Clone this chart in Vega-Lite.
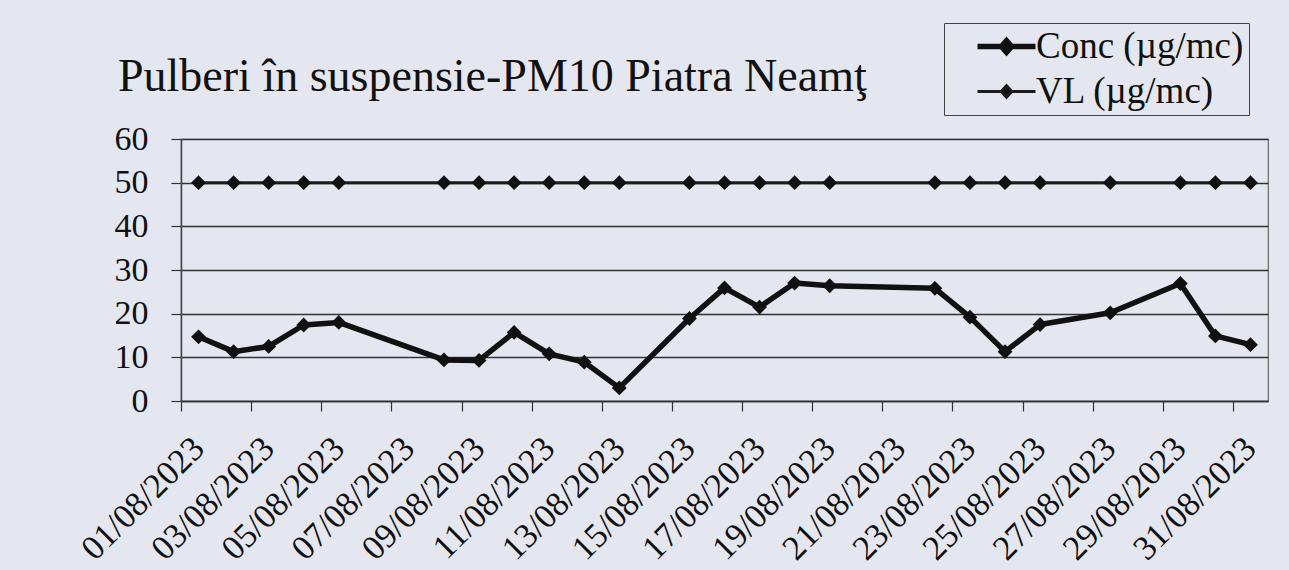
{
  "$schema": "https://vega.github.io/schema/vega-lite/v6.json",
  "width": 1087,
  "height": 262,
  "autosize": {"type": "none"},
  "padding": {"left": 181, "top": 139, "right": 21, "bottom": 169},
  "background": "#e5e7f0",
  "config": {
    "view": {"stroke": "#666", "strokeWidth": 1.2},
    "font": "Liberation Serif"
  },
  "title": {
    "text": "Pulberi în suspensie-PM10 Piatra Neamţ",
    "anchor": "start",
    "frame": "group",
    "font": "Liberation Serif",
    "fontSize": 46,
    "fontWeight": "normal",
    "color": "#111",
    "baseline": "alphabetic",
    "dx": -63,
    "offset": 20,
    "dy": 134
  },
  "data": {
    "values": [
      {"date": "2023-08-01T00:00:00", "series": "Conc (µg/mc)", "value": 14.7},
      {"date": "2023-08-02T00:00:00", "series": "Conc (µg/mc)", "value": 11.3},
      {"date": "2023-08-03T00:00:00", "series": "Conc (µg/mc)", "value": 12.5},
      {"date": "2023-08-04T00:00:00", "series": "Conc (µg/mc)", "value": 17.4},
      {"date": "2023-08-05T00:00:00", "series": "Conc (µg/mc)", "value": 18.0},
      {"date": "2023-08-08T00:00:00", "series": "Conc (µg/mc)", "value": 9.4},
      {"date": "2023-08-09T00:00:00", "series": "Conc (µg/mc)", "value": 9.3},
      {"date": "2023-08-10T00:00:00", "series": "Conc (µg/mc)", "value": 15.7},
      {"date": "2023-08-11T00:00:00", "series": "Conc (µg/mc)", "value": 10.8},
      {"date": "2023-08-12T00:00:00", "series": "Conc (µg/mc)", "value": 8.9},
      {"date": "2023-08-13T00:00:00", "series": "Conc (µg/mc)", "value": 3.0},
      {"date": "2023-08-15T00:00:00", "series": "Conc (µg/mc)", "value": 18.9},
      {"date": "2023-08-16T00:00:00", "series": "Conc (µg/mc)", "value": 25.9},
      {"date": "2023-08-17T00:00:00", "series": "Conc (µg/mc)", "value": 21.5},
      {"date": "2023-08-18T00:00:00", "series": "Conc (µg/mc)", "value": 27.0},
      {"date": "2023-08-19T00:00:00", "series": "Conc (µg/mc)", "value": 26.4},
      {"date": "2023-08-22T00:00:00", "series": "Conc (µg/mc)", "value": 25.8},
      {"date": "2023-08-23T00:00:00", "series": "Conc (µg/mc)", "value": 19.2},
      {"date": "2023-08-24T00:00:00", "series": "Conc (µg/mc)", "value": 11.3},
      {"date": "2023-08-25T00:00:00", "series": "Conc (µg/mc)", "value": 17.5},
      {"date": "2023-08-27T00:00:00", "series": "Conc (µg/mc)", "value": 20.2},
      {"date": "2023-08-29T00:00:00", "series": "Conc (µg/mc)", "value": 26.9},
      {"date": "2023-08-30T00:00:00", "series": "Conc (µg/mc)", "value": 14.9},
      {"date": "2023-08-31T00:00:00", "series": "Conc (µg/mc)", "value": 12.9},
      {"date": "2023-08-01T00:00:00", "series": "VL (µg/mc)", "value": 50},
      {"date": "2023-08-02T00:00:00", "series": "VL (µg/mc)", "value": 50},
      {"date": "2023-08-03T00:00:00", "series": "VL (µg/mc)", "value": 50},
      {"date": "2023-08-04T00:00:00", "series": "VL (µg/mc)", "value": 50},
      {"date": "2023-08-05T00:00:00", "series": "VL (µg/mc)", "value": 50},
      {"date": "2023-08-08T00:00:00", "series": "VL (µg/mc)", "value": 50},
      {"date": "2023-08-09T00:00:00", "series": "VL (µg/mc)", "value": 50},
      {"date": "2023-08-10T00:00:00", "series": "VL (µg/mc)", "value": 50},
      {"date": "2023-08-11T00:00:00", "series": "VL (µg/mc)", "value": 50},
      {"date": "2023-08-12T00:00:00", "series": "VL (µg/mc)", "value": 50},
      {"date": "2023-08-13T00:00:00", "series": "VL (µg/mc)", "value": 50},
      {"date": "2023-08-15T00:00:00", "series": "VL (µg/mc)", "value": 50},
      {"date": "2023-08-16T00:00:00", "series": "VL (µg/mc)", "value": 50},
      {"date": "2023-08-17T00:00:00", "series": "VL (µg/mc)", "value": 50},
      {"date": "2023-08-18T00:00:00", "series": "VL (µg/mc)", "value": 50},
      {"date": "2023-08-19T00:00:00", "series": "VL (µg/mc)", "value": 50},
      {"date": "2023-08-22T00:00:00", "series": "VL (µg/mc)", "value": 50},
      {"date": "2023-08-23T00:00:00", "series": "VL (µg/mc)", "value": 50},
      {"date": "2023-08-24T00:00:00", "series": "VL (µg/mc)", "value": 50},
      {"date": "2023-08-25T00:00:00", "series": "VL (µg/mc)", "value": 50},
      {"date": "2023-08-27T00:00:00", "series": "VL (µg/mc)", "value": 50},
      {"date": "2023-08-29T00:00:00", "series": "VL (µg/mc)", "value": 50},
      {"date": "2023-08-30T00:00:00", "series": "VL (µg/mc)", "value": 50},
      {"date": "2023-08-31T00:00:00", "series": "VL (µg/mc)", "value": 50}
    ]
  },
  "encoding": {
    "x": {
      "field": "date",
      "type": "temporal",
      "title": null,
      "scale": {
        "domain": [
          {"year": 2023, "month": 7, "date": 31, "hours": 12},
          {"year": 2023, "month": 8, "date": 31, "hours": 12}
        ],
        "nice": false
      },
      "axis": {
        "values": [
          {"year": 2023, "month": 8, "date": 1},
          {"year": 2023, "month": 8, "date": 3},
          {"year": 2023, "month": 8, "date": 5},
          {"year": 2023, "month": 8, "date": 7},
          {"year": 2023, "month": 8, "date": 9},
          {"year": 2023, "month": 8, "date": 11},
          {"year": 2023, "month": 8, "date": 13},
          {"year": 2023, "month": 8, "date": 15},
          {"year": 2023, "month": 8, "date": 17},
          {"year": 2023, "month": 8, "date": 19},
          {"year": 2023, "month": 8, "date": 21},
          {"year": 2023, "month": 8, "date": 23},
          {"year": 2023, "month": 8, "date": 25},
          {"year": 2023, "month": 8, "date": 27},
          {"year": 2023, "month": 8, "date": 29},
          {"year": 2023, "month": 8, "date": 31}
        ],
        "format": "%d/%m/%Y",
        "grid": false,
        "tickOffset": -17.53,
        "labelOffset": 5.5,
        "tickSize": 10,
        "tickColor": "#333",
        "tickWidth": 1.2,
        "domainColor": "#333",
        "domainWidth": 1.5,
        "labelAngle": -45,
        "labelFont": "Liberation Serif",
        "labelFontSize": 34.5,
        "labelColor": "#111",
        "labelPadding": 20,
        "labelOverlap": false,
        "labelBound": false,
        "labelFlush": false
      }
    },
    "y": {
      "field": "value",
      "type": "quantitative",
      "title": null,
      "scale": {"domain": [0, 60], "nice": false, "zero": true},
      "axis": {
        "values": [0, 10, 20, 30, 40, 50, 60],
        "grid": true,
        "gridColor": "#333",
        "gridWidth": 1.3,
        "tickSize": 10,
        "tickColor": "#333",
        "tickWidth": 1.2,
        "domainColor": "#444",
        "domainWidth": 1.5,
        "labelFont": "Liberation Serif",
        "labelFontSize": 34,
        "labelColor": "#111",
        "labelPadding": 23
      }
    }
  },
  "layer": [
    {
      "mark": {"type": "line", "strokeJoin": "round"},
      "encoding": {
        "color": {
          "field": "series",
          "type": "nominal",
          "scale": {"range": ["#111111", "#1c1c1c"]},
          "legend": {
            "title": null,
            "orient": "none",
            "legendX": 763,
            "legendY": -116,
            "strokeColor": "#444",
            "padding": 5,
            "symbolType": "M-2.5,0H-0.45L0,-0.5L0.45,0H2.5H0.45L0,0.5L-0.45,0Z",
            "symbolSize": 538,
            "symbolOffset": 39,
            "rowPadding": 7,
            "labelOffset": 11,
            "labelFont": "Liberation Serif",
            "labelFontSize": 37,
            "labelColor": "#111",
            "labelLimit": 400,
            "labelExpr": "datum.label + '\u00a0\u00a0\u2009'",
            "encode": {
              "symbols": {
                "update": {
                  "fill": {"value": "#111"},
                  "stroke": {"value": "#111"},
                  "strokeWidth": {"signal": "datum.value == 'Conc (µg/mc)' ? 5 : 3"},
                  "opacity": {"value": 1}
                }
              }
            }
          }
        },
        "strokeWidth": {
          "field": "series",
          "type": "nominal",
          "scale": {"range": [5.5, 3]},
          "legend": null
        }
      }
    },
    {
      "mark": {"type": "point", "shape": "diamond", "filled": true, "color": "#111", "size": 220, "opacity": 1},
      "encoding": {
        "detail": {"field": "series", "type": "nominal"}
      }
    }
  ]
}
